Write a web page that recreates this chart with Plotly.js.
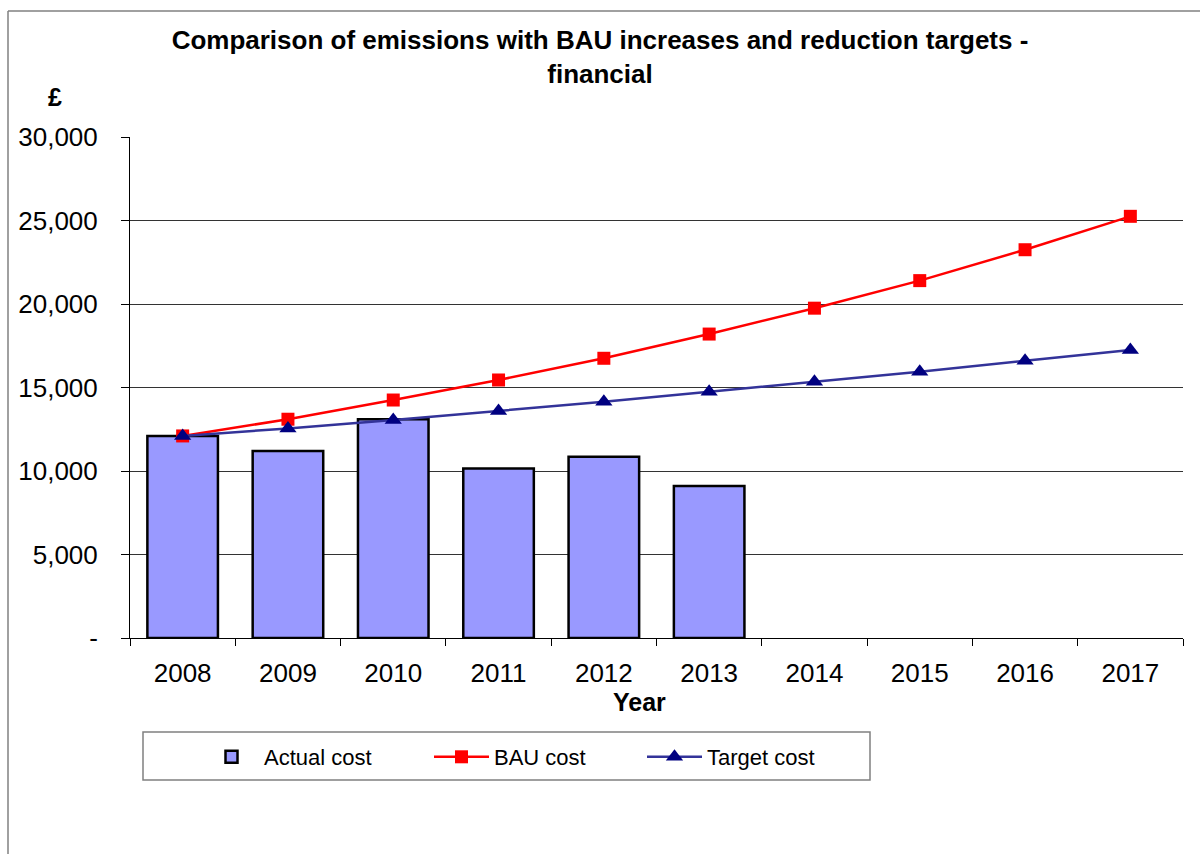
<!DOCTYPE html>
<html>
<head>
<meta charset="utf-8">
<script src="https://cdn.plot.ly/plotly-3.0.1.min.js"></script>
<style>
  html, body { margin: 0; padding: 0; background: #fff; }
  #chart { width: 1200px; height: 854px; }
</style>
</head>
<body>
<div id="chart"></div>
<script>
const years = ['2008','2009','2010','2011','2012','2013','2014','2015','2016','2017'];
const actualCost = [12100, 11200, 13100, 10150, 10850, 9100];
const bauCost = [12100, 13100, 14250, 15450, 16750, 18200, 19750, 21400, 23250, 25250];
const targetCost = [12100, 12550, 13050, 13600, 14150, 14750, 15350, 15950, 16600, 17250];
const yTickVals = [0, 5000, 10000, 15000, 20000, 25000, 30000];
const yTickText = ['-', '5,000', '10,000', '15,000', '20,000', '25,000', '30,000'];

const FONT = 'Liberation Sans, Arial, sans-serif';

const traces = [
  {
    type: 'bar', name: 'Actual cost',
    x: years.slice(0, actualCost.length), y: actualCost,
    marker: { color: '#9999FF', line: { color: '#000000', width: 2.5 } },
    legend: 'legend'
  },
  {
    type: 'scatter', mode: 'lines+markers', name: 'BAU cost',
    x: years, y: bauCost,
    line: { color: '#FF0000', width: 2.5 },
    marker: { symbol: 'square', size: 13, color: '#FF0000' },
    legend: 'legend2'
  },
  {
    type: 'scatter', mode: 'lines+markers', name: 'Target cost',
    x: years, y: targetCost,
    line: { color: '#333399', width: 2.5 },
    marker: { symbol: 'triangle-up', size: 15, color: '#000080' },
    legend: 'legend3'
  }
];

const W = 1053, H = 501, L = 130, T = 137;
const px = v => (v - L) / W;
const py = v => (T + H - v) / H;

function legendAt(xPix) {
  return {
    orientation: 'h', x: px(xPix), y: py(757), xanchor: 'left', yanchor: 'middle',
    bgcolor: 'rgba(0,0,0,0)', borderwidth: 0, itemwidth: 55,
    font: { family: FONT, size: 22, color: '#000' }
  };
}

const layout = {
  width: 1200, height: 854,
  margin: { l: 130, r: 17, t: 137, b: 216 },
  paper_bgcolor: '#ffffff', plot_bgcolor: '#ffffff',
  font: { family: FONT, color: '#000' },
  title: {
    text: 'Comparison of emissions with BAU increases and reduction targets -<br>financial',
    font: { family: FONT, size: 26, color: '#000', weight: 'bold' },
    x: 0.5, xref: 'container', y: 1 - 49 / 854, yref: 'container', yanchor: 'top'
  },
  bargap: 0.33,
  xaxis: {
    type: 'category', range: [-0.5, 9.5],
    showline: true, linecolor: '#000', linewidth: 1,
    ticks: 'outside', tickson: 'boundaries', ticklen: 7, tickcolor: '#000',
    ticklabelstandoff: 12,
    showgrid: false,
    tickfont: { family: FONT, size: 26, color: '#000' }
  },
  yaxis: {
    range: [0, 30000],
    tickvals: yTickVals, ticktext: yTickText,
    showline: true, linecolor: '#000', linewidth: 1,
    ticks: 'outside', ticklen: 8, tickcolor: '#000',
    ticklabelstandoff: 18,
    showgrid: true, gridcolor: '#333333', gridwidth: 1,
    zeroline: false,
    tickfont: { family: FONT, size: 26, color: '#000' }
  },
  legend: legendAt(199),
  legend2: legendAt(429),
  legend3: legendAt(642),
  showlegend: true,
  annotations: [
    { text: '£', xref: 'paper', yref: 'paper', x: px(55), y: py(97), showarrow: false,
      xanchor: 'center', yanchor: 'middle', font: { family: FONT, size: 25, weight: 'bold', color: '#000' } },
    { text: 'Year', xref: 'paper', yref: 'paper', x: px(639), y: py(702), showarrow: false,
      xanchor: 'center', yanchor: 'middle', font: { family: FONT, size: 25, weight: 'bold', color: '#000' } }
  ],
  shapes: [
    { type: 'rect', xref: 'paper', yref: 'paper', x0: px(143), x1: px(870), y0: py(732), y1: py(780),
      line: { color: '#808080', width: 1.5 }, fillcolor: 'rgba(0,0,0,0)' },
    { type: 'line', xref: 'paper', yref: 'paper', x0: px(8), x1: px(8), y0: py(11), y1: py(854),
      line: { color: '#808080', width: 1.5 } },
    { type: 'line', xref: 'paper', yref: 'paper', x0: px(8), x1: px(1200), y0: py(11), y1: py(11),
      line: { color: '#808080', width: 1.5 } }
  ]
};

Plotly.newPlot('chart', traces, layout, { displayModeBar: false, staticPlot: true });
</script>
</body>
</html>
